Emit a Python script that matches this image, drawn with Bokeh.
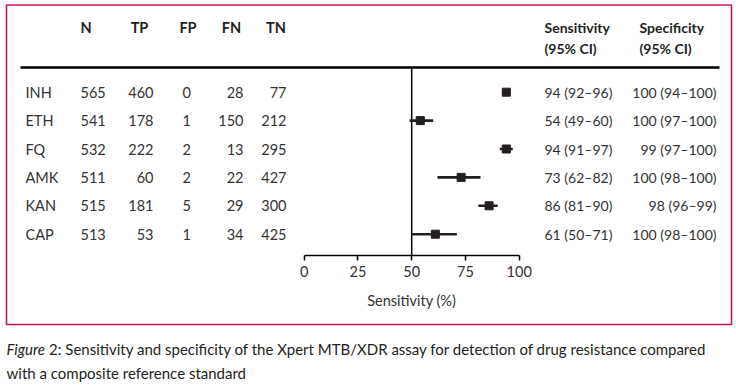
from bokeh.plotting import figure
from bokeh.models import Range1d, LinearAxis, FixedTicker
from bokeh.core.properties import value
from bokeh.embed import file_html
from bokeh.resources import INLINE

# ---------------- data ----------------
drugs = ["INH", "ETH", "FQ", "AMK", "KAN", "CAP"]
n_total = [565, 541, 532, 511, 515, 513]
tp = [460, 178, 222, 60, 181, 53]
fp = [0, 1, 2, 2, 5, 1]
fn = [28, 150, 13, 22, 29, 34]
tn = [77, 212, 295, 427, 300, 425]
sens = [94, 54, 94, 73, 86, 61]
sens_lo = [92, 49, 91, 62, 81, 50]
sens_hi = [96, 60, 97, 82, 90, 71]
spec = [100, 100, 99, 100, 98, 100]
spec_lo = [94, 97, 97, 98, 96, 98]
spec_hi = [100, 100, 100, 100, 99, 100]
axis_ticks = [0, 25, 50, 75, 100]
ref_value = 50
count_headers = ["N", "TP", "FP", "FN", "TN"]
sens_header = ["Sensitivity", "(95% CI)"]
spec_header = ["Specificity", "(95% CI)"]
axis_title = "Sensitivity (%)"
caption_italic = "Figure"
caption_line1 = "2: Sensitivity and specificity of the Xpert MTB/XDR assay for detection of drug resistance compared"
caption_line2 = "with a composite reference standard"

# ---------------- layout ----------------
W, H = 736, 386
FNAME = "Lato"
FONT = value(FNAME)
TXT = "#333333"
INK = "#231f20"
BORDER = "#c41a4c"
TS = "14.5px"     # table text size
VS = "14px"       # CI value text size

x0_px, x100_px = 303.7, 518.7          # pixel positions of 0 and 100
ppu = (x100_px - x0_px) / 100.0
x_start = -x0_px / ppu
x_end = (W - x0_px) / ppu

row_first, row_step = 91.7, 28.4
row_y = [row_first + i * row_step for i in range(len(drugs))]
header_y1, header_y2 = 27, 48
rule_y = 67
axis_y = 255

p = figure(width=W, height=H, x_range=Range1d(x_start, x_end),
           y_range=Range1d(H, 0), x_axis_type=None, y_axis_type=None,
           toolbar_location=None, output_backend="svg", min_border=0,
           outline_line_color=None, background_fill_color="white",
           border_fill_color="white")
p.extra_x_ranges = {"px": Range1d(0, W)}

# box border
p.quad(left=[6], right=[731], top=[4.5], bottom=[324], fill_color=None,
       line_color=BORDER, line_width=1.6, x_range_name="px")

# header rule
p.segment(x0=[20], x1=[719], y0=[rule_y], y1=[rule_y], line_color="black",
          line_width=2.6, x_range_name="px")

# headers
hdr_x = [85.5, 139, 187.5, 231, 275.5]
p.text(x=hdr_x, y=[header_y1] * len(hdr_x), text=count_headers, text_font=FONT,
       text_font_size=TS, text_font_style="bold", text_color=INK,
       text_baseline="middle", text_align="center", x_range_name="px")
p.text(x=[544, 544], y=[header_y1, header_y2], text=sens_header, text_font=FONT,
       text_font_size=VS, text_font_style="bold", text_color=INK,
       text_baseline="middle", text_align="left", x_range_name="px")
p.text(x=[639, 639], y=[header_y1, header_y2], text=spec_header, text_font=FONT,
       text_font_size=VS, text_font_style="bold", text_color=INK,
       text_baseline="middle", text_align="left", x_range_name="px")

def col(xpx, vals, align, size=TS):
    p.text(x=[xpx] * len(vals), y=row_y, text=[str(v) for v in vals],
           text_font=FONT, text_font_size=size, text_color=TXT,
           text_baseline="middle", text_align=align, x_range_name="px")

col(25, drugs, "left")
col(80, n_total, "left")
col(153, tp, "right")
col(182, fp, "left")
col(243, fn, "right")
col(286, tn, "right")
col(544, [f"{s} ({l}\u2013{h})" for s, l, h in zip(sens, sens_lo, sens_hi)], "left", VS)
col(716, [f"{s} ({l}\u2013{h})" for s, l, h in zip(spec, spec_lo, spec_hi)], "right", VS)

# reference line
p.segment(x0=[ref_value], x1=[ref_value], y0=[rule_y], y1=[axis_y],
          line_color="black", line_width=1.5)

# CI bars and point estimates
p.segment(x0=sens_lo, x1=sens_hi, y0=row_y, y1=row_y, line_color=INK,
          line_width=2.6)
p.scatter(x=sens, y=row_y, marker="square", size=8, fill_color=INK,
          line_color=INK)

# axis
ax = LinearAxis(ticker=FixedTicker(ticks=axis_ticks), bounds=(axis_ticks[0], axis_ticks[-1]),
                fixed_location=axis_y)
ax.axis_line_color = "black"
ax.axis_line_width = 1.5
ax.major_tick_line_color = "black"
ax.major_tick_line_width = 1.5
ax.major_tick_in = 0
ax.major_tick_out = 5
ax.minor_tick_in = 0
ax.minor_tick_out = 0
ax.major_label_standoff = 5
ax.major_label_text_font = FNAME
ax.major_label_text_font_size = TS
ax.major_label_text_color = TXT
p.add_layout(ax, "below")

p.text(x=[(axis_ticks[0] + axis_ticks[-1]) / 2], y=[300], text=[axis_title],
       text_font=FONT, text_font_size=TS, text_color=TXT,
       text_baseline="middle", text_align="center")

# caption
CS = "15px"
p.text(x=[6], y=[348], text=[caption_italic], text_font=FONT,
       text_font_size=CS, text_font_style="italic", text_color=INK,
       text_baseline="middle", text_align="left", x_range_name="px")
p.text(x=[48.5], y=[348], text=[caption_line1], text_font=FONT,
       text_font_size=CS, text_color=INK,
       text_baseline="middle", text_align="left", x_range_name="px")
p.text(x=[6], y=[372], text=[caption_line2], text_font=FONT,
       text_font_size=CS, text_color=INK,
       text_baseline="middle", text_align="left", x_range_name="px")

open("out.html", "w").write(file_html(p, INLINE))
